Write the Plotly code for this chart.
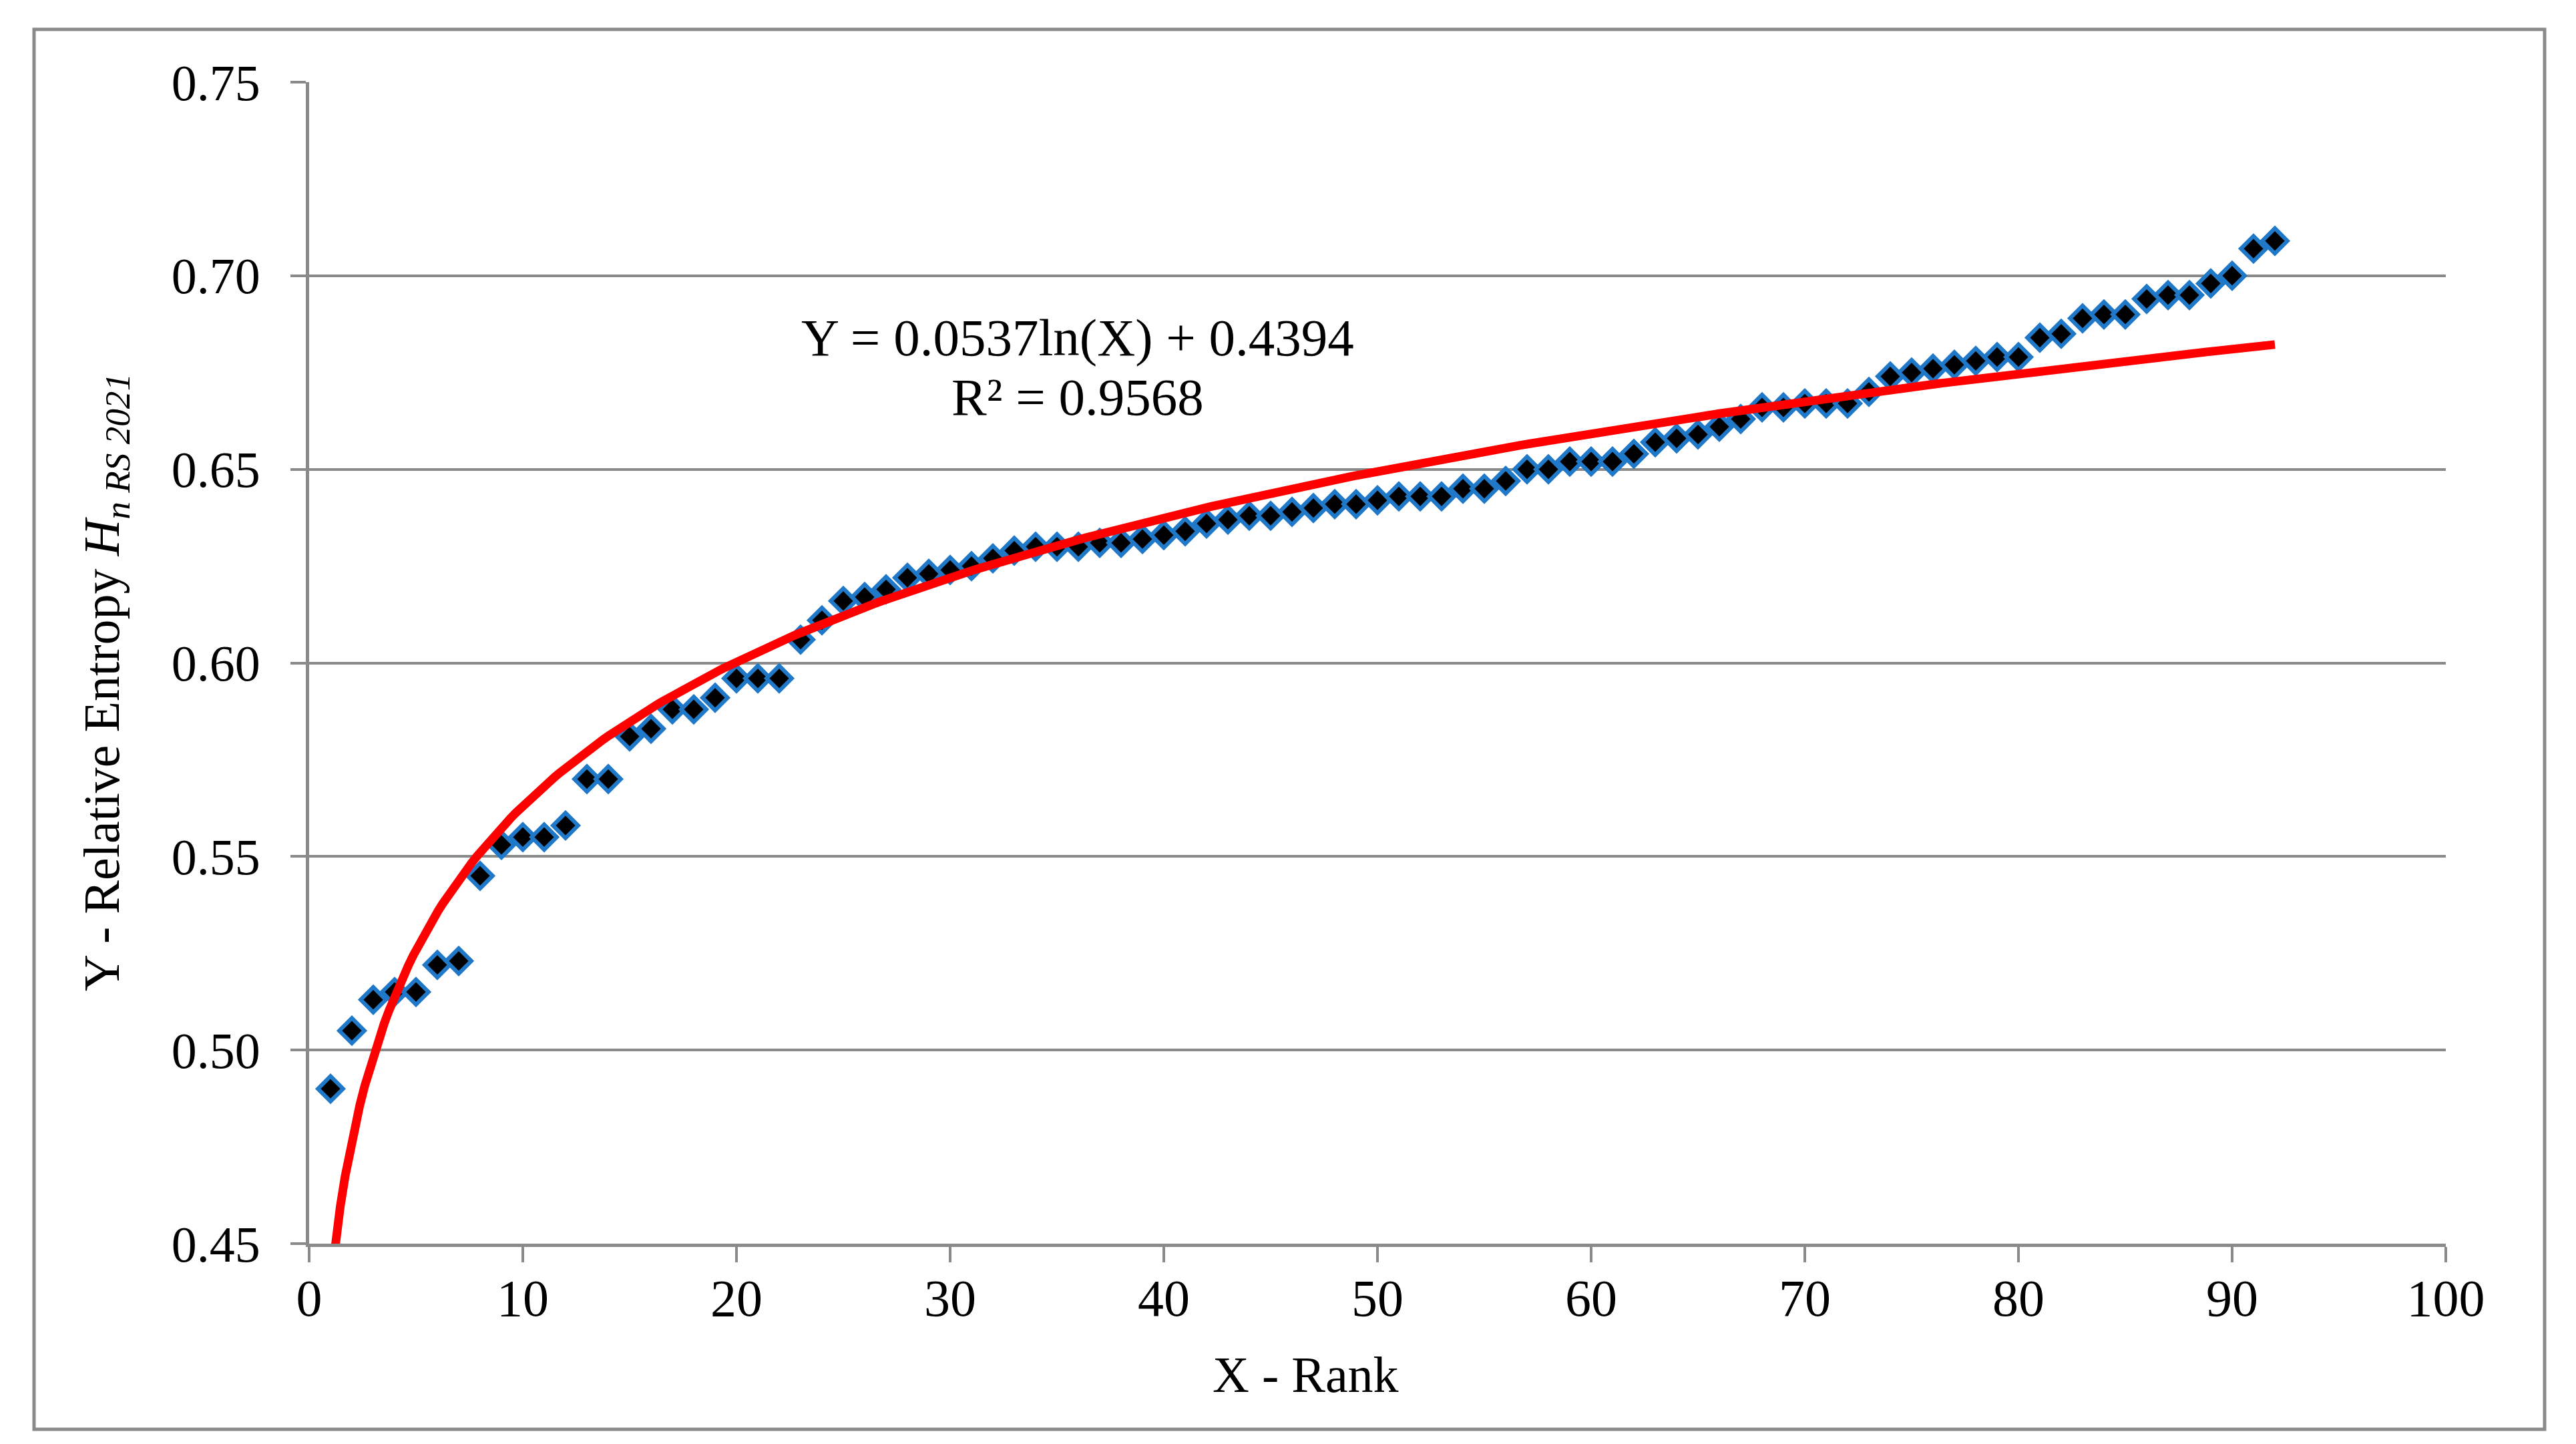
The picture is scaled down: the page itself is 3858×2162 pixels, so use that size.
import numpy as np
import plotly.graph_objects as go

# ---- data ----
rank = list(range(1, 93))
entropy = [
    0.490, 0.505, 0.513, 0.515, 0.515, 0.522, 0.523, 0.545, 0.553, 0.555,
    0.555, 0.558, 0.570, 0.570, 0.581, 0.583, 0.588, 0.588, 0.591, 0.596,
    0.596, 0.596, 0.606, 0.611, 0.616, 0.617, 0.619, 0.622, 0.623, 0.624,
    0.625, 0.627, 0.629, 0.630, 0.630, 0.630, 0.631, 0.631, 0.632, 0.633,
    0.634, 0.636, 0.637, 0.638, 0.638, 0.639, 0.640, 0.641, 0.641, 0.642,
    0.643, 0.643, 0.643, 0.645, 0.645, 0.647, 0.650, 0.650, 0.652, 0.652,
    0.652, 0.654, 0.657, 0.658, 0.659, 0.661, 0.663, 0.666, 0.666, 0.667,
    0.667, 0.667, 0.670, 0.674, 0.675, 0.676, 0.677, 0.678, 0.679, 0.679,
    0.684, 0.685, 0.689, 0.690, 0.690, 0.694, 0.695, 0.695, 0.698, 0.700,
    0.707, 0.709,
]
trend_slope = 0.0537
trend_intercept = 0.4394
r_squared = 0.9568
x_ticks = [0, 10, 20, 30, 40, 50, 60, 70, 80, 90, 100]
y_ticks = [0.45, 0.50, 0.55, 0.60, 0.65, 0.70, 0.75]

# ---- layout geometry (pixels) ----
W, H = 3858, 2162
L, R, T, B = 455, 3655, 115, 1854
pw, ph = R - L, B - T

def px_x(p):
    return (p - L) / pw

def px_y(p):
    return (B - p) / ph

FONT = "Liberation Serif"
GRAY = "#8A8A8A"

x_fit = np.linspace(min(rank), max(rank), 400)
y_fit = trend_slope * np.log(x_fit) + trend_intercept

fig = go.Figure()
fig.add_trace(go.Scatter(
    x=rank, y=entropy, mode="markers",
    marker=dict(symbol="diamond", size=29, color="black",
                line=dict(color="#1F78C8", width=6)),
    showlegend=False, cliponaxis=False,
))
fig.add_trace(go.Scatter(
    x=x_fit, y=y_fit, mode="lines",
    line=dict(color="#FF0000", width=13),
    showlegend=False,
))

fig.update_layout(
    width=W, height=H,
    margin=dict(l=L, r=W - R, t=T, b=H - B, pad=0),
    paper_bgcolor="white", plot_bgcolor="white",
    font=dict(family=FONT, size=76, color="black"),
    xaxis=dict(
        range=[0, 100], tickvals=x_ticks, ticktext=[str(v) for v in x_ticks],
        showgrid=False, zeroline=False,
        showline=True, linecolor=GRAY, linewidth=5,
        ticks="outside", ticklen=23, tickwidth=4, tickcolor=GRAY,
        tickfont=dict(family=FONT, size=78), ticklabelstandoff=-14,
    ),
    yaxis=dict(
        range=[0.45, 0.75], tickvals=y_ticks, ticktext=[f"{v:.2f}" for v in y_ticks],
        showgrid=True, gridcolor=GRAY, gridwidth=4, zeroline=False,
        showline=True, linecolor=GRAY, linewidth=5,
        ticks="outside", ticklen=23, tickwidth=4, tickcolor=GRAY,
        tickfont=dict(family=FONT, size=76), ticklabelstandoff=30,
    ),
    shapes=[dict(
        type="rect", xref="paper", yref="paper",
        x0=px_x(43), x1=px_x(3803), y0=px_y(2132), y1=px_y(36),
        line=dict(color=GRAY, width=5), fillcolor="rgba(0,0,0,0)", layer="below",
    )],
    annotations=[
        dict(text=f"Y = {trend_slope}ln(X) + {trend_intercept}",
             xref="paper", yref="paper", x=px_x(1606), y=px_y(497),
             xanchor="center", yanchor="middle", showarrow=False,
             font=dict(family=FONT, size=79)),
        dict(text=f"R² = {r_squared}",
             xref="paper", yref="paper", x=px_x(1606), y=px_y(586),
             xanchor="center", yanchor="middle", showarrow=False,
             font=dict(family=FONT, size=79)),
        dict(text="X - Rank",
             xref="paper", yref="paper", x=px_x(1947), y=px_y(2050),
             xanchor="center", yanchor="middle", showarrow=False,
             font=dict(family=FONT, size=76)),
        dict(text="Y - Relative Entropy <i>H</i><sub><i>n RS 2021</i></sub>",
             xref="paper", yref="paper", x=px_x(150), y=px_y(1014),
             xanchor="center", yanchor="middle", showarrow=False, textangle=-90,
             font=dict(family=FONT, size=76)),
    ],
)

fig.write_html("out.html")
